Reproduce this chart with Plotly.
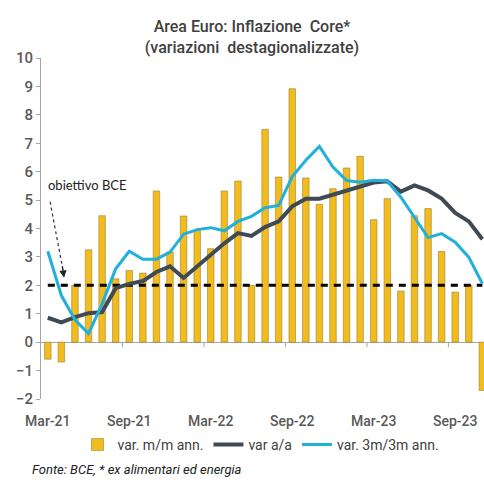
import plotly.graph_objects as go

months = ['Mar-21', 'Apr-21', 'May-21', 'Jun-21', 'Jul-21', 'Aug-21', 'Sep-21', 'Oct-21', 'Nov-21', 'Dec-21',
          'Jan-22', 'Feb-22', 'Mar-22', 'Apr-22', 'May-22', 'Jun-22', 'Jul-22', 'Aug-22', 'Sep-22', 'Oct-22', 'Nov-22', 'Dec-22',
          'Jan-23', 'Feb-23', 'Mar-23', 'Apr-23', 'May-23', 'Jun-23', 'Jul-23', 'Aug-23', 'Sep-23', 'Oct-23', 'Nov-23']

var_mm_ann = [-0.6, -0.7, 2.0, 3.25, 4.45, 2.23, 2.52, 2.43, 5.32, 3.17,
              4.44, 3.93, 3.29, 5.32, 5.67, 2.0, 7.49, 5.81, 8.92, 5.78, 4.85, 5.4,
              6.13, 6.54, 4.31, 5.05, 1.8, 4.45, 4.7, 3.19, 1.76, 2.0, -1.7]

var_aa = [0.86, 0.70, 0.88, 1.02, 1.06, 1.9, 2.05, 2.15, 2.47, 2.67,
          2.26, 2.67, 3.05, 3.48, 3.84, 3.74, 4.05, 4.25, 4.78, 5.05, 5.05, 5.2,
          5.35, 5.5, 5.62, 5.66, 5.3, 5.52, 5.34, 5.05, 4.55, 4.25, 3.62]

var_3m3m_ann = [3.2, 1.64, 0.79, 0.3, 1.35, 2.58, 3.2, 2.92, 2.92, 3.17,
                3.8, 3.96, 4.03, 3.92, 4.25, 4.43, 4.73, 4.81, 5.83, 6.4, 6.89, 6.16,
                5.69, 5.63, 5.7, 5.67, 5.1, 4.4, 3.68, 3.82, 3.52, 2.99, 2.06]

bce_target = 2.0
tick_labels = ['Mar-21', 'Sep-21', 'Mar-22', 'Sep-22', 'Mar-23', 'Sep-23']

FONT = "Roboto, Liberation Sans, sans-serif"

fig = go.Figure()
fig.add_trace(go.Bar(x=months, y=var_mm_ann, name='var. m/m ann.',
                     marker=dict(color='#F2BB1E', line=dict(color='#9C8330', width=0.6))))
fig.add_trace(go.Scatter(x=months, y=[bce_target] * len(months), mode='lines', showlegend=False,
                         line=dict(color='black', width=3, dash='7px,6px')))
fig.add_trace(go.Scatter(x=months, y=var_aa, mode='lines', name='var a/a',
                         line=dict(color='#3F4A55', width=4)))
fig.add_trace(go.Scatter(x=months, y=var_3m3m_ann, mode='lines', name='var. 3m/3m ann.',
                         line=dict(color='#20B0DA', width=3)))

shapes = []
for lab in tick_labels[1:]:
    idx = months.index(lab) - 0.5
    shapes.append(dict(type='line', xref='x', yref='y', x0=idx, x1=idx, ysizemode='pixel', yanchor=0,
                       y0=0, y1=-5, line=dict(color='#A6A6A6', width=1)))
# dotted arrow shaft for the annotation
shapes.append(dict(type='line', xref='x', yref='y', x0=0.17, y0=4.94, x1=1.15, y1=2.45,
                   line=dict(color='#333333', width=1.2, dash='dot')))

fig.update_layout(
    width=484, height=490,
    margin=dict(l=41, r=0, t=58, b=91),
    paper_bgcolor='white', plot_bgcolor='white',
    bargap=0.52,
    shapes=shapes,
    title=dict(text='Area Euro: Inflazione  Core*<br>(variazioni  destagionalizzate)',
               x=252 / 484, xref='container', xanchor='center',
               y=(490 - 32) / 490, yref='container', yanchor='top',
               font=dict(family=FONT, size=16, color='#404040', weight=500)),
    xaxis=dict(type='category', categoryorder='array', categoryarray=months,
               range=[-0.5, 32.12], tickvals=tick_labels, ticktext=tick_labels,
               showline=False, ticks='', showgrid=False, zeroline=False,
               ticklabelstandoff=12, automargin=False,
               tickfont=dict(family=FONT, size=14, color='#595959', weight=500)),
    yaxis=dict(range=[-2, 10], dtick=1, showgrid=False, zeroline=True, zerolinecolor='#A6A6A6',
               zerolinewidth=1, showline=True, linecolor='#A6A6A6', linewidth=1,
               ticks='outside', ticklen=4, tickcolor='#A6A6A6', automargin=False,
               tickfont=dict(family=FONT, size=15, color='#595959', weight=500)),
    legend=dict(orientation='h', xref='container', x=261 / 484, xanchor='center',
                yref='container', y=(490 - 445) / 490, yanchor='middle',
                font=dict(family=FONT, size=14, color='#404040'),
                itemwidth=30, tracegroupgap=0, traceorder='normal'),
    annotations=[
        dict(text='obiettivo BCE', xref='x', yref='y', x=-0.15, y=5.54, xanchor='left', yanchor='middle',
             showarrow=False, font=dict(family='Lato, Open Sans, sans-serif', size=13, color='#222222')),
        dict(text='', xref='x', yref='y', x=1.2, y=2.27, ax=-2, ay=-13, showarrow=True,
             arrowhead=2, arrowsize=1.2, arrowwidth=1.2, arrowcolor='#222222'),
        dict(text='<i>Fonte: BCE, * ex alimentari ed energia</i>', xref='paper', yref='paper',
             x=(30 - 41) / 443, y=(399.3 - 470) / 341.6, xanchor='left', yanchor='middle',
             showarrow=False, font=dict(family=FONT, size=13, color='#222222')),
    ],
)

fig.write_html('out.html', config={'displayModeBar': False},
               post_script="document.body.style.margin='0';")
